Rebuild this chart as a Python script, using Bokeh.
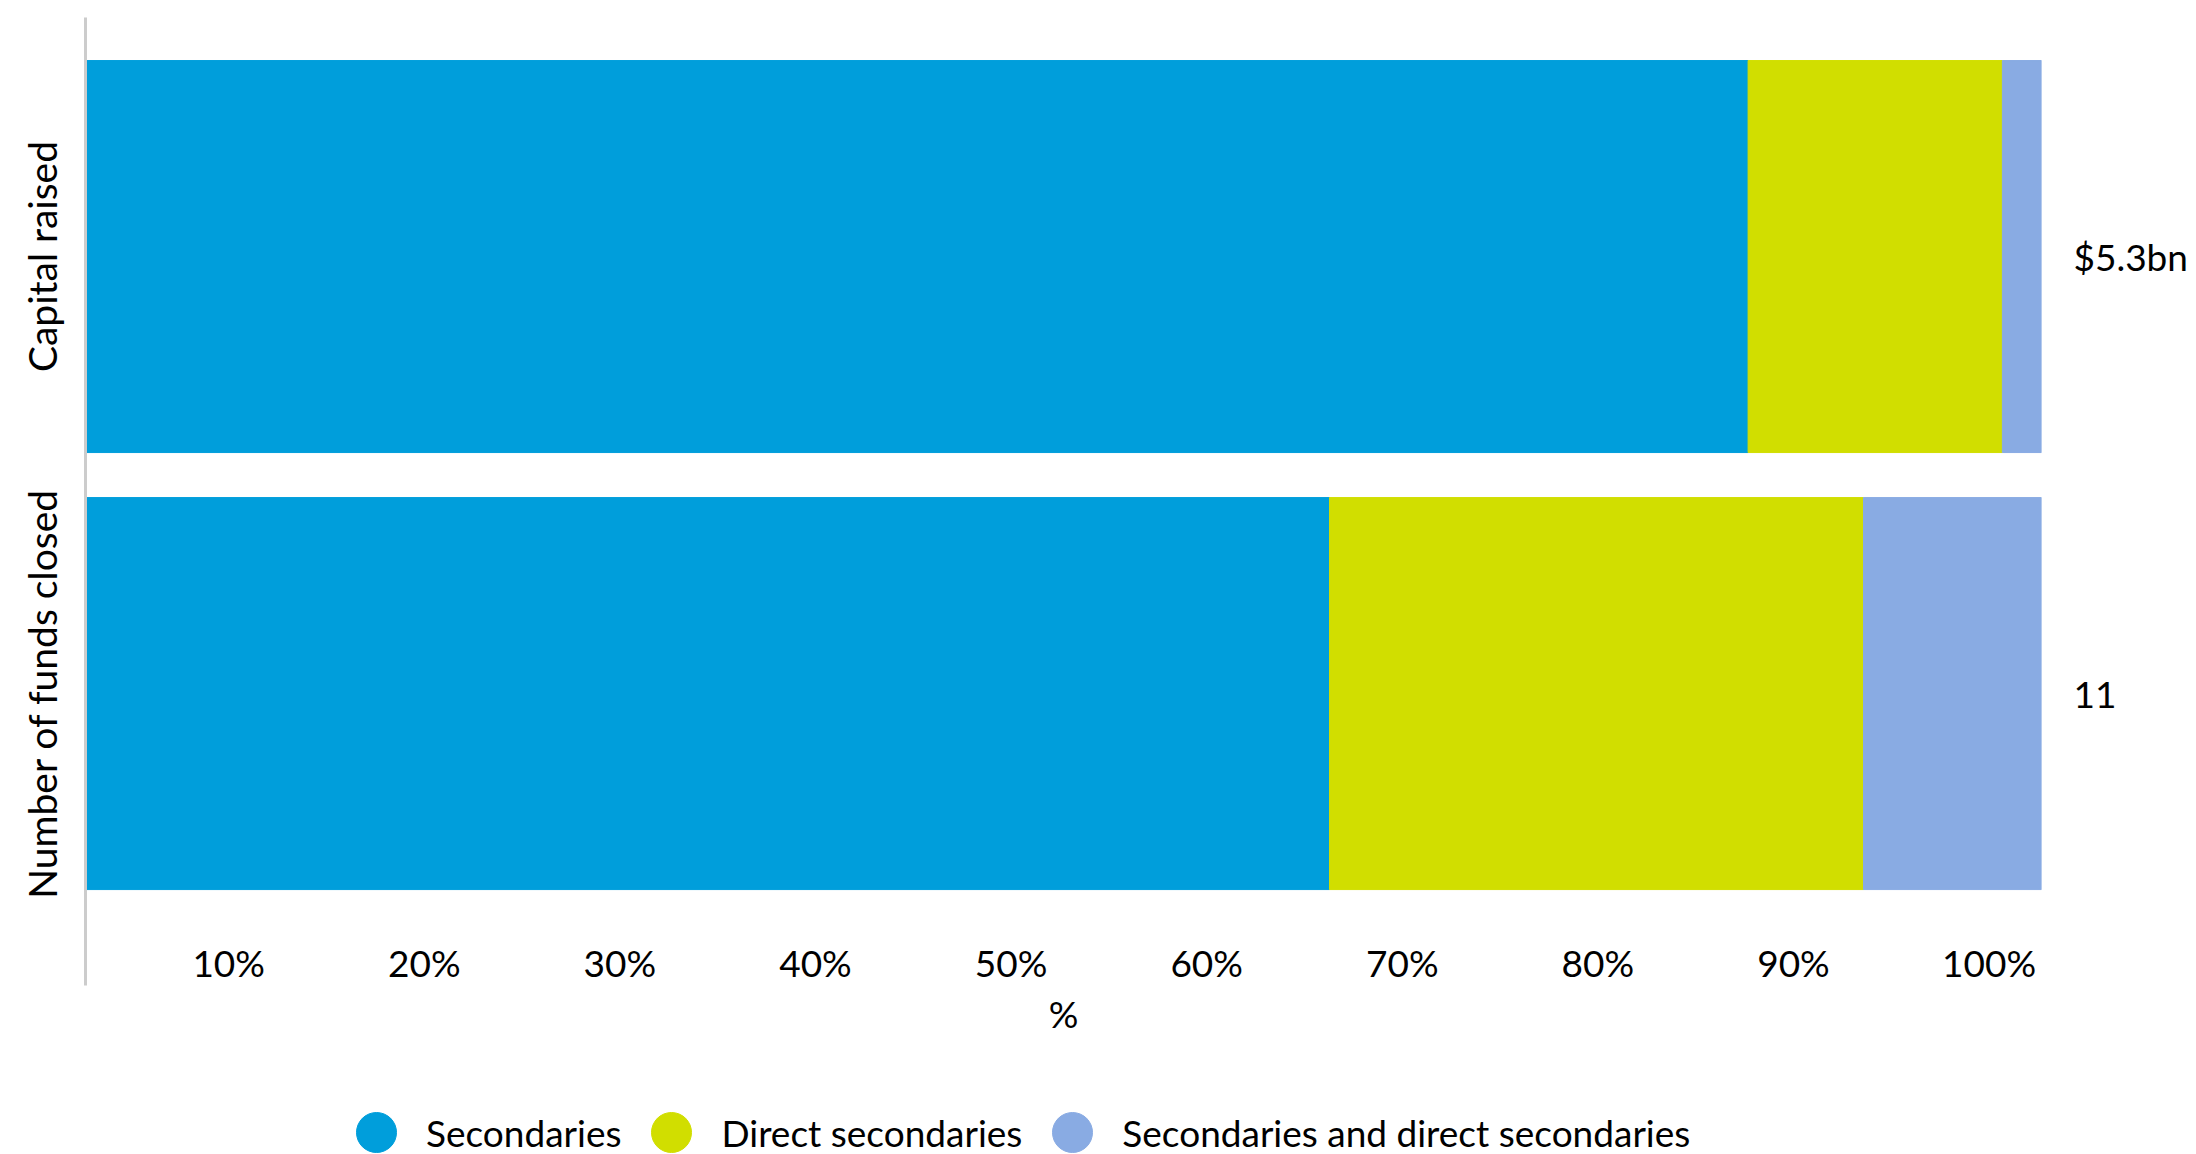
from bokeh.plotting import figure
from bokeh.models import (Range1d, FixedTicker, LinearAxis, Legend, LegendItem,
                          ColumnDataSource)
from bokeh.layouts import column
from bokeh.embed import file_html
from bokeh.resources import INLINE

# ---------------- data ----------------
categories = ["Capital raised", "Number of funds closed"]
totals = ["$5.3bn", "11"]
series = ["Secondaries", "Direct secondaries", "Secondaries and direct secondaries"]
secondaries = [85.0, 63.6]
direct_secondaries = [13.0, 27.3]
secondaries_and_direct = [2.0, 9.1]
colors = ["#009EDB", "#D1DE00", "#89ABE3"]
tick_values = [10, 20, 30, 40, 50, 60, 70, 80, 90, 100]
tick_labels = ["10%", "20%", "30%", "40%", "50%", "60%", "70%", "80%", "90%", "100%"]
x_title = "%"

FONT = "Lato"
W = 2196
n = len(categories)
ypos = [n - i - 0.5 for i in range(n)]

src = ColumnDataSource(dict(y=ypos, s=secondaries, d=direct_secondaries,
                            b=secondaries_and_direct))

p = figure(width=W, height=1060,
           x_range=Range1d(0, 100), y_range=Range1d(-0.168, 2.047),
           output_backend="svg", toolbar_location=None,
           min_border_left=85, min_border_right=155,
           min_border_top=17, min_border_bottom=75)
p.outline_line_color = None
p.grid.visible = False
p.background_fill_color = "white"

p.hbar_stack(["s", "d", "b"], y="y", height=0.897, color=colors, source=src)

# x axis (labels sit inside the bottom of the frame, as in the reference)
shift = -2.68
xt = [round(v + shift, 2) for v in tick_values]
xa = p.xaxis[0]
xa.ticker = FixedTicker(ticks=xt)
xa.major_label_overrides = {t: l for t, l in zip(xt, tick_labels)}
xa.axis_line_color = None
xa.major_tick_line_color = None
xa.minor_tick_line_color = None
xa.major_label_standoff = -52
xa.major_label_text_font = FONT
xa.major_label_text_font_size = "37px"
xa.major_label_text_color = "black"
xa.axis_label = x_title
xa.axis_label_text_font = FONT
xa.axis_label_text_font_size = "37px"
xa.axis_label_text_font_style = "normal"
xa.axis_label_text_color = "black"
xa.axis_label_standoff = 3

# left category axis
ya = p.yaxis[0]
ya.ticker = FixedTicker(ticks=ypos)
ya.major_label_overrides = {y: c for y, c in zip(ypos, categories)}
ya.major_label_orientation = "vertical"
ya.axis_line_color = "#CCCCCC"
ya.axis_line_width = 3
ya.major_tick_line_color = None
ya.minor_tick_line_color = None
ya.major_label_standoff = 14
ya.major_label_text_font = FONT
ya.major_label_text_font_size = "39px"
ya.major_label_text_color = "black"

# right axis with totals
ra = LinearAxis(ticker=FixedTicker(ticks=ypos),
                major_label_overrides={y: t for y, t in zip(ypos, totals)})
ra.axis_line_color = None
ra.major_tick_line_color = None
ra.minor_tick_line_color = None
ra.major_label_standoff = 26
ra.major_label_text_font = FONT
ra.major_label_text_font_size = "37px"
ra.major_label_text_color = "black"
p.add_layout(ra, "right")

# legend strip below the chart, with circular markers
lg = figure(width=W, height=94, x_range=Range1d(0, 1), y_range=Range1d(0, 1),
            output_backend="svg", toolbar_location=None,
            x_axis_location=None, y_axis_location=None,
            min_border_left=85, min_border_right=155,
            min_border_top=0, min_border_bottom=0)
lg.outline_line_color = None
lg.grid.visible = False
items = []
for name, c in zip(series, colors):
    r = lg.scatter(x=[float("nan")], y=[float("nan")], size=40, color=c,
                   marker="circle")
    items.append(LegendItem(label=name, renderers=[r]))
legend = Legend(items=items, orientation="horizontal", location=(241, -29),
                glyph_width=100, glyph_height=102, label_standoff=0, spacing=0,
                padding=0, margin=0, border_line_color=None,
                background_fill_alpha=0, label_text_font=FONT,
                label_text_font_size="37px", label_text_color="black")
lg.add_layout(legend, "center")

layout = column(p, lg, spacing=0)
open("out.html", "w").write(file_html(layout, INLINE))
